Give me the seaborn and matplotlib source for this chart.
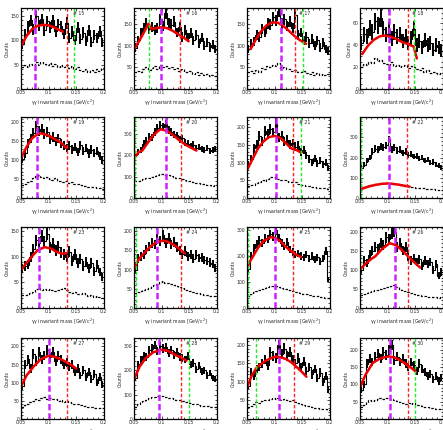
import numpy as np
import pandas as pd
import matplotlib
matplotlib.use("Agg")
import matplotlib.pyplot as plt
import seaborn as sns

# ---------------------------------------------------------------
# gamma-gamma invariant mass, 30 bins from 0.05 to 0.2 GeV/c^2
# signal (solid) and background (dashed) counts per panel
# ---------------------------------------------------------------

edges = np.linspace(0.05, 0.2, 31)
centers = (edges[:-1] + edges[1:]) / 2

sig_15 = [92,112,128,140,122,148,130,142,120,138,125,140,118,132,128,112,135,105,118,100,125,102,115,98,120,96,110,104,118,95]
bkg_15 = [45,48,44,52,50,55,48,56,52,50,54,47,52,45,50,44,48,42,46,40,44,38,36,40,34,38,35,40,37,42]
fitx_15 = [0.05,0.06,0.07,0.08,0.09,0.10,0.11,0.12,0.126]
fity_15 = [87,108,122,129,131,130,126,120,117]

sig_16 = [95,112,128,140,150,138,142,135,140,160,145,175,150,148,155,130,142,120,135,118,128,112,125,105,118,100,108,96,102,92]
bkg_16 = [38,42,40,46,50,44,48,52,47,55,50,53,48,50,46,48,42,45,40,38,42,35,38,33,36,32,34,30,32,29]
fitx_16 = [0.05,0.06,0.07,0.076,0.082,0.09,0.10,0.11,0.12,0.13,0.14,0.149]
fity_16 = [91,112,135,150,138,140,142,140,134,126,118,110]

sig_17 = [92,105,110,125,120,138,130,150,148,165,158,180,150,160,145,155,140,170,125,130,112,120,105,115,100,112,95,108,92,88]
bkg_17 = [38,42,36,44,40,48,45,52,50,55,52,60,48,50,46,45,42,44,40,38,42,36,35,38,33,36,32,35,33,34]
fitx_17 = [0.0566,0.065,0.075,0.085,0.095,0.105,0.115,0.125,0.135,0.145,0.157]
fity_17 = [92,112,132,146,153,153,146,135,123,113,104]

sig_18 = [42,50,48,56,52,62,58,65,55,50,54,46,52,48,50,44,48,42,46,55,40,44,38,45,40,42,36,40,38,35]
bkg_18 = [20,23,22,25,24,28,26,27,24,23,22,25,21,22,20,21,22,19,21,20,18,17,19,16,17,15,16,15,14,15]
fitx_18 = [0.054,0.065,0.075,0.085,0.093,0.105,0.115,0.126,0.137,0.147,0.153]
fity_18 = [32,40,45,48,49,48,46,43,41,39,28]

sig_19 = [102,118,145,158,172,190,178,182,170,175,155,162,150,158,145,140,132,138,128,135,122,140,125,132,118,128,120,125,110,100]
bkg_19 = [35,38,42,45,52,58,62,55,52,56,50,48,52,46,45,42,44,40,42,38,36,35,33,32,30,28,30,27,26,25]
fitx_19 = [0.05,0.06,0.07,0.08,0.0853,0.09,0.10,0.11,0.12,0.125,0.132]
fity_19 = [106,135,158,169,171,170,165,157,149,143,132]

sig_20 = [200,215,225,255,270,290,285,310,330,345,335,350,320,310,300,295,275,280,260,255,245,250,235,240,230,225,235,220,225,230]
bkg_20 = [78,82,85,88,92,95,100,105,108,112,115,110,106,102,98,95,92,90,85,82,80,76,72,70,66,65,62,60,58,60]
fitx_20 = [0.05,0.058,0.065,0.075,0.085,0.095,0.099,0.11,0.12,0.133,0.145,0.155,0.163]
fity_20 = [185,215,223,260,295,318,323,315,298,269,248,234,223]

sig_21 = [95,110,140,150,175,160,190,180,195,185,210,170,175,160,165,150,155,145,148,130,135,120,110,100,112,98,105,95,100,85]
bkg_21 = [33,36,38,42,45,50,48,55,58,60,57,55,52,50,48,46,44,45,40,38,36,35,33,32,30,29,28,28,27,26]
fitx_21 = [0.05,0.06,0.07,0.08,0.09,0.10,0.11,0.12,0.13,0.14,0.148]
fity_21 = [78,110,140,160,172,175,170,155,140,135,128]

sig_22 = [150,165,185,200,230,245,240,255,250,260,290,240,250,235,240,225,230,215,220,205,210,195,200,185,190,175,178,165,160,150]
bkg_22 = [52,56,60,62,66,68,70,72,74,76,75,72,70,68,66,63,60,58,56,55,52,50,50,48,46,45,44,42,40,42]
fitx_22 = [0.05,0.06,0.07,0.08,0.09,0.10,0.11,0.12,0.13,0.14]
fity_22 = [42,52,60,66,70,72,70,66,61,56]

sig_23 = [78,82,85,100,115,132,128,140,130,145,118,125,112,120,108,105,100,110,92,105,88,95,82,90,78,88,72,85,70,60]
bkg_23 = [25,26,28,30,32,38,40,36,38,35,38,36,34,35,37,40,36,32,30,31,28,27,29,26,24,25,22,23,21,20]
fitx_23 = [0.05,0.06,0.07,0.08,0.093,0.105,0.114,0.124,0.132]
fity_23 = [74,88,101,113,119,116,110,106,107]

sig_24 = [100,128,135,140,152,160,170,165,180,175,190,170,182,165,172,158,150,140,148,135,140,128,138,130,132,125,122,118,115,105]
bkg_24 = [40,42,45,48,50,52,56,60,63,68,70,66,64,62,60,57,55,52,48,46,44,42,40,38,36,35,33,32,30,30]
fitx_24 = [0.05,0.055,0.059,0.07,0.08,0.09,0.102,0.11,0.12,0.13,0.142]
fity_24 = [99,118,127,145,160,170,175,173,166,156,142]

sig_25 = [150,200,230,245,260,250,270,265,285,275,300,270,250,240,255,225,215,205,210,200,195,205,190,200,185,195,180,190,220,110]
bkg_25 = [48,55,60,65,70,75,78,82,84,86,85,80,78,75,72,68,66,63,60,58,55,52,50,48,46,45,43,42,40,38]
fitx_25 = [0.05,0.054,0.059,0.07,0.08,0.093,0.10,0.11,0.1204,0.13,0.14,0.148]
fity_25 = [150,175,192,232,258,273,270,258,235,218,204,196]

sig_26 = [100,125,118,140,150,160,155,170,165,185,180,195,200,160,170,150,160,135,125,130,120,128,110,125,115,120,100,115,85,95]
bkg_26 = [33,36,40,42,45,46,48,50,52,55,56,58,60,55,50,48,45,42,40,36,35,34,32,31,30,30,28,29,27,28]
fitx_26 = [0.0507,0.06,0.07,0.078,0.09,0.104,0.115,0.125,0.134,0.145,0.159]
fity_26 = [102,116,128,136,155,170,165,153,140,124,106]

sig_27 = [90,150,165,140,180,160,185,165,175,190,170,185,160,175,165,150,155,145,150,130,140,120,135,115,130,110,125,100,115,95]
bkg_27 = [33,38,42,48,50,55,52,58,60,56,58,54,55,50,52,48,50,46,45,42,40,38,36,35,33,32,31,30,30,29]
fitx_27 = [0.05,0.06,0.0725,0.085,0.099,0.11,0.12,0.126,0.14,0.15]
fity_27 = [89,120,144,164,174,172,166,162,150,139]

sig_28 = [170,225,245,260,255,285,290,305,280,300,290,295,270,285,265,275,255,250,245,260,225,230,205,220,195,200,180,190,170,165]
bkg_28 = [50,60,68,75,80,86,90,92,94,96,95,92,88,86,84,80,78,75,72,68,64,62,60,57,55,53,52,50,50,48]
fitx_28 = [0.05,0.06,0.0714,0.085,0.099,0.11,0.1265,0.136,0.145]
fity_28 = [163,215,251,275,285,282,262,252,240]

sig_29 = [90,125,115,135,140,150,160,145,180,170,165,200,175,190,170,180,160,150,165,140,155,130,140,120,135,110,125,100,115,80]
bkg_29 = [32,35,40,45,44,48,50,52,55,57,54,56,52,54,50,48,50,45,42,40,38,35,34,32,30,30,28,27,26,25]
fitx_29 = [0.05,0.058,0.0667,0.075,0.085,0.095,0.1026,0.11,0.12,0.13,0.14,0.15,0.1576]
fity_29 = [85,115,137,148,158,165,168,167,162,153,140,126,114]

sig_30 = [85,100,160,175,165,180,190,175,195,185,200,215,170,180,165,175,160,150,165,155,140,160,145,135,125,130,115,125,110,120]
bkg_30 = [35,40,48,55,52,55,58,60,58,62,60,58,55,52,50,45,44,46,42,45,40,40,38,36,35,33,32,30,30,30]
fitx_30 = [0.05,0.06,0.0729,0.085,0.095,0.103,0.113,0.123,0.133,0.143,0.151]
fity_30 = [91,128,162,174,179,181,178,170,159,148,137]

# panel number, y-axis max, y tick step
panel_ids = [15,16,17,18,19,20,21,22,23,24,25,26,27,28,29,30]
y_max = [165,186,186,74,214,380,228,400,158,210,311,212,223,333,218,234]
y_step = [50,50,50,20,50,100,50,100,50,50,100,50,50,100,50,50]

# vertical marker lines (magenta, red, green)
magenta_x = [0.0755,0.099,0.111,0.1034,0.0796,0.108,0.103,0.103,0.0826,0.0916,0.1002,0.1127,0.1004,0.0959,0.1086,0.1048]
red_x = [0.1336,0.1339,0.137,0.137,0.1336,0.1345,0.134,0.136,0.1336,0.1345,0.1339,0.1368,0.1336,0.1345,0.1343,0.1361]
green_x = [0.1466,0.0763,0.152,0.147,0.0505,0.0512,0.148,0.051,0.0505,0.0543,0.0518,0.0507,0.0505,0.1492,0.0655,0.15]

signals = [sig_15,sig_16,sig_17,sig_18,sig_19,sig_20,sig_21,sig_22,sig_23,sig_24,sig_25,sig_26,sig_27,sig_28,sig_29,sig_30]
backgrounds = [bkg_15,bkg_16,bkg_17,bkg_18,bkg_19,bkg_20,bkg_21,bkg_22,bkg_23,bkg_24,bkg_25,bkg_26,bkg_27,bkg_28,bkg_29,bkg_30]
fit_xs = [fitx_15,fitx_16,fitx_17,fitx_18,fitx_19,fitx_20,fitx_21,fitx_22,fitx_23,fitx_24,fitx_25,fitx_26,fitx_27,fitx_28,fitx_29,fitx_30]
fit_ys = [fity_15,fity_16,fity_17,fity_18,fity_19,fity_20,fity_21,fity_22,fity_23,fity_24,fity_25,fity_26,fity_27,fity_28,fity_29,fity_30]

#----------------------------------------------------------------

sns.set_theme(style="ticks")
plt.rcParams['font.family'] = ['DejaVu Sans']
plt.rcParams['xtick.direction'] = 'in'
plt.rcParams['ytick.direction'] = 'in'

fig = plt.figure(figsize=(4.43, 4.30), dpi=100)

col_left = [0.0474, 0.3025, 0.5576, 0.8126]
row_bottom = [0.793, 0.5395, 0.2837, 0.0256]
w = 0.187
h = 0.188
fs = 3.3

for k in range(16):
    r = k // 4
    c = k % 4
    ax = fig.add_axes([col_left[c], row_bottom[r], w, h])

    hist = pd.DataFrame({"mass": centers,
                         "sig": np.array(signals[k], dtype=float),
                         "bkg": np.array(backgrounds[k], dtype=float)})

    # signal histogram with error bars
    sns.histplot(data=hist, x="mass", weights="sig", bins=30, binrange=(0.05, 0.2),
                 element="step", fill=False, color="black", linewidth=0.8, ax=ax)
    ax.errorbar(hist["mass"], hist["sig"], yerr=np.sqrt(hist["sig"]), fmt='none',
                ecolor='black', elinewidth=1.4, capsize=0)

    # background histogram, dashed
    sns.histplot(data=hist, x="mass", weights="bkg", bins=30, binrange=(0.05, 0.2),
                 element="step", fill=False, color="black", linewidth=0.9,
                 linestyle=(0, (2, 1.4)), ax=ax)

    # fit curve
    sns.lineplot(x=fit_xs[k], y=fit_ys[k], color="#ee0000", linewidth=1.8,
                 sort=False, ax=ax)

    # marker lines
    ax.axvline(green_x[k], color="#22ee22", linewidth=1.0, linestyle=(0, (2.5, 1.5)))
    ax.axvline(red_x[k], color="#ff2222", linewidth=1.0, linestyle=(0, (2.5, 1.5)))
    ax.axvline(magenta_x[k], color="#cc22ff", linewidth=1.8, linestyle=(0, (2.5, 1.2)))

    ax.set_xlim(0.05, 0.2)
    ax.set_ylim(0, y_max[k])
    ax.set_xticks([0.05, 0.1, 0.15, 0.2])
    ax.set_xticklabels(["0.05", "0.1", "0.15", "0.2"])
    ax.set_yticks(np.arange(0, y_max[k], y_step[k]))
    ax.minorticks_on()
    ax.tick_params(which='both', direction='in', top=True, right=True,
                   labelsize=fs, pad=1, width=0.5, color='black')
    ax.tick_params(which='major', length=2.5)
    ax.tick_params(which='minor', length=1.3)
    for s in ax.spines.values():
        s.set_linewidth(0.9)
        s.set_color('black')

    ax.set_xlabel("γγ invariant mass [GeV/c$^2$]", fontsize=fs, labelpad=1.5)
    ax.set_ylabel("Counts", fontsize=fs, labelpad=0.5)
    ax.text(0.63, 0.96, "# " + str(panel_ids[k]), transform=ax.transAxes,
            fontsize=fs, ha='left', va='top')

fig.savefig("out.png", dpi=100)
